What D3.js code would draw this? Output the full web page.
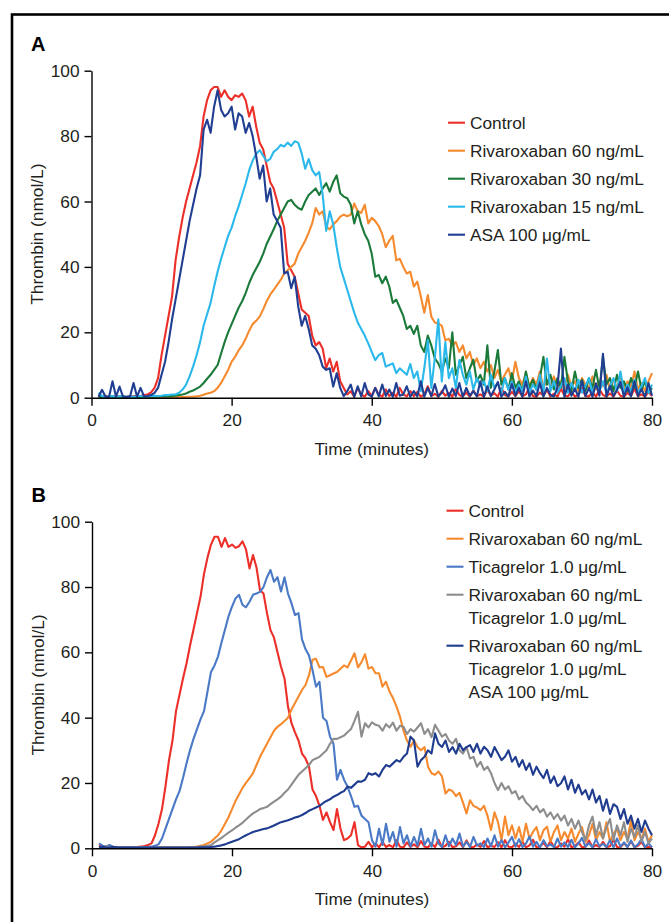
<!DOCTYPE html>
<html>
<head>
<meta charset="utf-8">
<script src="https://cdn.jsdelivr.net/npm/d3@7"></script>
<style>
  body { margin: 0; background: #fff; }
  text { font-family: Arial, "Liberation Sans", sans-serif; }
</style>
</head>
<body>
<svg id="chart" width="669" height="922"></svg>
<script>
// sample times (minutes), one reading every 30 s
var TIME = [
  1,1.5,2,2.5,3,3.5,4,4.5,5,5.5,
  6,6.5,7,7.5,8,8.5,9,9.5,10,10.5,
  11,11.5,12,12.5,13,13.5,14,14.5,15,15.5,
  16,16.5,17,17.5,18,18.5,19,19.5,20,20.5,
  21,21.5,22,22.5,23,23.5,24,24.5,25,25.5,
  26,26.5,27,27.5,28,28.5,29,29.5,30,30.5,
  31,31.5,32,32.5,33,33.5,34,34.5,35,35.5,
  36,36.5,37,37.5,38,38.5,39,39.5,40,40.5,
  41,41.5,42,42.5,43,43.5,44,44.5,45,45.5,
  46,46.5,47,47.5,48,48.5,49,49.5,50,50.5,
  51,51.5,52,52.5,53,53.5,54,54.5,55,55.5,
  56,56.5,57,57.5,58,58.5,59,59.5,60,60.5,
  61,61.5,62,62.5,63,63.5,64,64.5,65,65.5,
  66,66.5,67,67.5,68,68.5,69,69.5,70,70.5,
  71,71.5,72,72.5,73,73.5,74,74.5,75,75.5,
  76,76.5,77,77.5,78,78.5,79,79.5,80
];

var X_TICKS = [0, 20, 40, 60, 80];
var Y_TICKS = [0, 20, 40, 60, 80, 100];

// ---- panel A series (thrombin nmol/L) ----
var A_CONTROL = [
  0.5,0.3,0.6,0.4,0.3,0.5,0.4,0.6,0.3,0.5,
  0.4,0.6,0.5,0.8,1.0,1.6,3,6,13,19,
  25,31,42,49,55,60,64,68,72,77,
  86,91,94,95,95,92,94,92,91,92.5,
  92,93,91,86,89,83,78,76,71,66,
  64,60,56,52,41,39,37,32,27,26,
  25,19,16,17,15,9,12,8,11,5,
  3,1,2,0.3,3,1,0.3,2,0.5,3,
  1,0.3,2.5,0.5,1.5,0.3,3,1,0.4,2,
  0.5,1.8,0.3,1,3.5,0.5,1.2,0.3,2,0.6,
  1.5,0.3,2.8,0.8,0.4,1.6,0.3,2.2,0.5,1,
  0.3,2.5,0.6,1.4,0.3,3,0.8,0.4,1.8,0.5,
  2,0.4,1,3.2,0.5,0.3,1.6,0.6,2.4,0.4,
  1.2,0.3,2.8,0.7,0.4,1.9,0.3,1,3,0.5,
  0.4,1.7,0.3,2.6,0.8,0.4,1.3,0.3,2.2,0.6,
  0.3,1.5,0.5,2.8,0.4,1,0.3,1.8,0.5
];
var A_RIV60 = [
  0.2,0.2,0.2,0.2,0.2,0.2,0.2,0.2,0.2,0.2,
  0.2,0.2,0.2,0.2,0.2,0.2,0.2,0.2,0.2,0.2,
  0.2,0.2,0.2,0.2,0.2,0.2,0.3,0.3,0.4,0.6,
  0.9,1.3,1.5,2,3,4.5,6.5,8.5,11,12.5,
  14.5,16,18,20.5,22.5,23.5,24.8,27,29.5,31.5,
  33,34.5,36,38,39,40,41,44,46,48,
  50.5,53.3,58,56,57,52.3,51.5,53,54,55.4,
  56,55.5,56,59.4,57,56.5,59,53.3,55,54,
  52.5,50,46,48,49.5,42,42.5,40,38,38.5,
  34,35.5,31,26,31.4,24.8,23,22.7,22,17.6,
  18,16,17,14,16,12,14,10,12,9,
  11,8,10,6,8.5,5,7,9,5,11,
  6,4,7.5,3.5,6,4,8,3,5.5,3.5,
  6.5,3,5,2.5,7,3.5,5,2,6,4,
  3,6.5,2.5,5,3.5,7,2.5,5.5,3,6.5,
  2.5,5,3,8,2.5,4.5,2,5,7.5
];
var A_RIV30 = [
  0.2,0.2,0.2,0.2,0.2,0.2,0.2,0.2,0.2,0.2,
  0.2,0.2,0.2,0.2,0.2,0.3,0.3,0.3,0.4,0.4,
  0.4,0.5,0.6,0.8,1,1.3,1.8,2.2,2.8,3.4,
  4.5,5.8,7,8.5,10,13.5,17,20,22.5,25,
  27.5,29.5,32,35,37.5,39.5,41.5,44,47,49.2,
  51.5,54,56,58,60,60.5,59,58,57.5,60,
  62,63,64,62,64,65.6,63,66,68,62.5,
  61.5,61,59,53.3,57,53,50,48,44,37,
  37.5,35,37,34,29,30,27.5,25,21,22,
  19.5,22,16,14,19,16,12,10.5,8,12,
  9,20,7,10,12.5,6,9,11.6,5,7,
  4,16,3,8,14.6,4,6,2.5,7.5,3,
  5,2,8,3,5.5,2.5,6,12.5,4,7,
  2.5,6,3,12.5,5,2,8,3,5.5,2,
  6,3,8.5,2.5,12.5,4,6,2,7,3,
  5,2,6,3,8,2.5,5,1.5,3
];
var A_RIV15 = [
  1.5,0.5,0.3,0.4,0.5,0.3,0.4,0.5,0.3,0.4,
  0.3,0.4,0.5,0.3,0.4,0.5,0.6,0.5,0.6,0.8,
  0.8,1,1,1.5,2.5,4,6.5,9.5,13,17,
  22,25.5,29,34,38.5,42.5,46,49.5,52,55.5,
  58.5,62,65.5,69.5,72.5,74.5,75.7,74,72.3,73,
  75.2,76,77.3,76.8,78,77,78.4,78,74.7,70,
  73,69.6,68,69,62,51,57,53,46,40,
  36.5,33,29.5,26,23,21,19,16.6,14,11.5,
  13,13.7,9.5,10,10.5,7.5,9,8,7,10.3,
  6,8,2,9,17.6,3,12,24,5,17,
  6,9,3,11.5,7,4,8,2.5,6,3.5,
  5,2,7,3,4.5,1.5,6,2.5,5,1.5,
  4,2,6.5,1.5,4,2.5,7,1.5,12,2,
  5,1.5,3.5,6,1.5,4.5,2,5.5,1.5,3.5,
  6,1.5,4,2,5,1.5,3.5,6,2,8,
  1.5,4,2,5.5,1.5,3.5,6,1.5,4
];
var A_ASA = [
  0.3,2.4,0.3,0.2,5,0.3,3.4,0.3,0.2,0.4,
  4.5,0.3,3,0.4,0.5,0.8,1.5,3,7,11,
  17,24,30,36,42,48,54,59,64,68,
  82,85,81,89,94,88,86,87,89,82,
  87,86,81,84,80,74,67,71,60,64,
  56,54,52,38,38.5,33.5,37,28,22,25,
  21,16,15,13,9.5,8.5,9,3.4,7.5,3,
  0.5,2,4,0.3,3.5,0.4,4.5,1,0.3,3,
  0.4,4,0.5,2.5,0.3,4.5,0.6,1,3.5,0.3,
  2,0.4,5,0.3,3,0.5,4.2,0.4,1.5,3.8,
  0.3,2.8,0.5,4.5,0.3,3,0.6,2,0.4,5,
  0.3,3.5,0.5,2.5,4.8,0.3,1.8,0.4,4.2,0.6,
  3,0.3,5,0.4,2.2,0.5,4.6,0.3,3,0.8,
  0.4,3,15,0.3,4,0.6,2.8,0.3,5.2,0.5,
  3,0.3,4.4,0.6,13.4,0.3,3.6,0.5,2.4,4.8,
  0.3,3.2,0.4,5,0.5,2.6,0.3,4.5,0.6
];

// ---- panel B series ----
var B_CONTROL = [
  1,0.5,0.3,0.8,0.3,0.4,0.2,0.3,0.2,0.3,
  0.3,0.4,0.5,0.7,1,1.5,4,7.5,12,19,
  27,33,42,47,52,56.6,62,67,72,77,
  84,89,93,95.4,95.4,92.3,95,92.3,93,92,
  92.5,94,91.5,85.7,89.8,86,79,78,72,66.8,
  64.5,60,55.6,52,43.4,38.3,35.5,33,29,27.5,
  25,18,16,13,8.7,11,8,5.6,12,6,
  2.5,3,4,8,1,0.3,0.5,2,0.3,1.5,
  0.3,2,0.4,1,0.3,2.5,0.5,0.3,1.8,0.4,
  1.2,0.3,2.2,0.5,0.3,1.5,0.4,2.6,0.3,0.8,
  2,0.3,0.6,1.8,0.3,2.4,0.5,0.3,1.2,0.4,
  2.2,0.3,0.8,0.4,1.9,0.3,2.5,0.5,0.3,1.4,
  0.4,2,0.3,0.9,2.6,0.3,0.5,1.7,0.3,2.2,
  0.4,0.3,1.5,0.5,2.8,0.3,0.7,1.8,0.3,0.5,
  2.4,0.3,1,0.4,2,0.3,0.6,2.6,0.4,0.3,
  1.6,0.4,2.2,0.3,0.8,1.9,0.3,0.5,0.3
];
var B_RIV60 = [
  0.3,0.5,0.3,0.2,0.3,0.2,0.3,0.2,0.3,0.2,
  0.2,0.2,0.2,0.2,0.2,0.2,0.3,0.3,0.3,0.3,
  0.3,0.3,0.3,0.3,0.3,0.3,0.4,0.4,0.5,0.8,
  1,1.5,2,3,4,5.5,7.5,9.5,12,14.5,
  16.5,18.5,20,21.5,23,25.5,28,30,32,34,
  36,37.2,38,39,40,42.5,44.5,46.5,48.5,50,
  53,57.7,58,55.4,55.5,52.5,53,53.5,54,55,
  56,55.4,57.5,59.7,55.4,57,59.4,55,55.5,53.6,
  53.6,49.5,51,48,46,43.4,40.3,36,33,31.1,
  33,31,30,31,25,23,22.5,23.5,22,16.8,
  18,17.5,16,17,14,10.7,14.7,13,12.5,11.7,
  13,10,5.6,11,8,2.5,9.7,4,7,3,
  6.5,2,7.5,3,5,6.5,2.5,5.5,6.6,2,
  5,7,2.5,5,3,6,2,4.5,6.5,2,
  4,7.5,2.5,5,3,8,2,4.5,6,2.5,
  5,3,8.5,2.5,5,3,6,2,4
];
var B_TICA = [
  1.5,0.8,0.5,1,0.4,0.3,0.4,0.3,0.2,0.3,
  0.3,0.2,0.3,0.4,0.4,0.5,0.8,1.2,3,6,
  9,12,15,17.5,21.5,26,30,33.5,36.5,39.5,
  42,48,54,56,58.7,63,67,71,74,76.5,
  77.6,74.5,73.8,75.5,77.6,78,78.5,80,83,85.2,
  81.6,83,78.6,83,78,75,71.4,72,64,61,
  59,54.6,49.5,51,40,39,34.2,32,21,24,
  21,18.9,16,12.7,13,10,9,8,2.5,0.5,
  6,1,7.5,2,5,0.5,6.5,1.5,4,0.5,
  3.5,0.8,6,1,3,0.5,5.5,1.5,0.4,4,
  0.6,3,1,4.5,0.5,2,0.4,3.5,0.8,1.5,
  0.4,3,0.6,4,0.5,2.5,0.3,1.8,3.5,0.5,
  2.8,0.4,1.5,3.6,0.5,2,0.3,2.5,0.6,1.2,
  0.3,3,0.5,1.8,0.4,2.6,0.3,1.5,3.2,0.5,
  1.6,0.3,2.8,0.6,1.4,0.4,2.5,0.3,3,0.5,
  1.8,0.4,2.4,0.3,1.2,2.8,0.4,1.5,0.3
];
var B_RIV_TICA = [
  0.5,0.3,0.6,0.3,0.2,0.3,0.2,0.2,0.2,0.2,
  0.2,0.2,0.2,0.2,0.2,0.2,0.2,0.2,0.2,0.2,
  0.2,0.2,0.2,0.2,0.2,0.2,0.3,0.3,0.4,0.5,
  0.6,0.8,1,1.8,2.5,3.2,4,4.8,5.5,6.3,
  7,7.8,8.8,9.8,10.7,11.3,12,12.3,12.7,13.5,
  14.3,15,15.8,17,18,19.5,21,22.5,23.5,24.5,
  25.5,27,27.5,28,29,30,32,33.5,33.5,34,
  34.5,35.5,36.5,39,41.8,34.2,38.3,37,38.6,37.8,
  37.5,36,38,37,38.5,36,37.5,37.2,35,36.5,
  35.7,37,38.3,35,36.5,34,37.8,36,34.2,35,
  33,32,33.5,30,29,31,27.5,28,25,26.5,
  24,25,23,20,17.8,20,18,19,16.8,17.5,
  15,16,14,13,11.7,13,11,12,9.7,11,
  9,10.5,8.5,10,7,9,6,8.5,5,2.5,
  7,9.7,4,8,3,6.5,9,2.5,7,4,
  8,2,6,3.5,7,2,5,1.5,3
];
var B_RIV_TICA_ASA = [
  0.3,0.5,0.3,0.2,0.5,0.3,0.2,0.2,0.2,0.2,
  0.2,0.2,0.2,0.2,0.2,0.2,0.2,0.2,0.2,0.2,
  0.2,0.2,0.2,0.2,0.2,0.2,0.2,0.2,0.2,0.3,
  0.3,0.3,0.4,0.5,0.7,0.9,1.2,1.6,2,2.4,
  2.8,3.4,4,4.5,5,5.3,5.6,5.9,6.1,6.5,
  7,7.5,8,8.3,8.6,9,9.4,9.7,10.2,10.8,
  11.5,12,12.5,13,13.8,14.5,15,15.8,16.3,17,
  17.5,18.9,18.5,19.5,20.5,20.4,21,23,22.5,23,
  22,24,25.5,25,26,27,26.5,28,29,34.2,
  33,25,27,28,30,29,35.2,32,31,33,
  29.5,31,29,32,30,31,31.6,29.5,32,29,
  31.1,30,28,31,29,27,28,30,26.5,28,
  25,27,24,26,22.5,25,23,21.5,24,20,
  22,19,19.9,22,18,21,17,19.5,16.5,17.8,
  15,18,14,16,11.5,15,10.5,13.5,12.7,9,
  12,7.5,10,6,9,5,8.5,6,4
];

var A_LABELS = [["Control"], ["Rivaroxaban 60 ng/mL"], ["Rivaroxaban 30 ng/mL"],
                ["Rivaroxaban 15 ng/mL"], ["ASA 100 \u03bcg/mL"]];
var B_LABELS = [["Control"], ["Rivaroxaban 60 ng/mL"], ["Ticagrelor 1.0 \u03bcg/mL"],
                ["Rivaroxaban 60 ng/mL", "Ticagrelor 1.0 \u03bcg/mL"],
                ["Rivaroxaban 60 ng/mL", "Ticagrelor 1.0 \u03bcg/mL", "ASA 100 \u03bcg/mL"]];

var FONT_SIZE = "17.3px";

var svg = d3.select("#chart");

// outer frame (runs off the right and bottom edges)
svg.append("rect")
  .attr("x", 12).attr("y", 14.5)
  .attr("width", 720).attr("height", 960)
  .attr("fill", "none").attr("stroke", "#000").attr("stroke-width", 2.6);

function drawPanel(opt) {
  var g = svg.append("g")
    .attr("transform", "translate(" + opt.left + "," + opt.top + ")");

  var x = d3.scaleLinear().domain([0, 80]).range([0, opt.width]);
  var y = d3.scaleLinear().domain([0, 100]).range([opt.height, 0]);

  var line = d3.line()
    .x(function(d, i) { return x(TIME[i]); })
    .y(function(d) { return y(d); });

  // curves
  opt.series.forEach(function(s, k) {
    g.append("path")
      .datum(s)
      .attr("d", line)
      .attr("fill", "none")
      .attr("stroke", opt.colors[k])
      .attr("stroke-width", 2.1)
      .attr("stroke-linejoin", "round");
  });

  // axes
  var xAxis = d3.axisBottom(x).tickValues(X_TICKS).tickSize(8).tickSizeOuter(0).tickPadding(8);
  var yAxis = d3.axisLeft(y).tickValues(Y_TICKS).tickSize(7).tickSizeOuter(0).tickPadding(5);

  var gx = g.append("g").attr("transform", "translate(0," + opt.height + ")").call(xAxis);
  var gy = g.append("g").call(yAxis);

  [gx, gy].forEach(function(a) {
    a.select(".domain").attr("stroke", "#000").attr("stroke-width", 1.4);
    a.selectAll(".tick line").attr("stroke", "#000").attr("stroke-width", 1.4);
    a.selectAll(".tick text")
      .attr("fill", "#231f20")
      .style("font-size", FONT_SIZE)
      .style("font-family", "Arial, 'Liberation Sans', sans-serif");
  });

  // axis titles
  g.append("text")
    .attr("transform", "translate(" + (-48.5) + "," + (opt.height / 2) + ") rotate(-90)")
    .attr("text-anchor", "middle")
    .attr("fill", "#231f20")
    .style("font-size", FONT_SIZE)
    .text("Thrombin (nmol/L)");

  g.append("text")
    .attr("x", x(40))
    .attr("y", opt.height + 57)
    .attr("text-anchor", "middle")
    .attr("fill", "#231f20")
    .style("font-size", FONT_SIZE)
    .text("Time (minutes)");

  // panel letter
  svg.append("text")
    .attr("x", opt.letterX).attr("y", opt.letterY)
    .attr("fill", "#000")
    .style("font-size", "20px")
    .style("font-weight", "bold")
    .text(opt.letter);

  // legend
  var lg = svg.append("g");
  var yy = opt.legendY;
  opt.labels.forEach(function(lines, k) {
    lg.append("line")
      .attr("x1", opt.legendX).attr("x2", opt.legendX + 17)
      .attr("y1", yy).attr("y2", yy)
      .attr("stroke", opt.colors[k]).attr("stroke-width", 2.1);
    lines.forEach(function(t, j) {
      lg.append("text")
        .attr("x", opt.legendX + 22)
        .attr("y", yy + j * opt.lineStep)
        .attr("dy", "0.36em")
        .attr("fill", "#231f20")
        .style("font-size", FONT_SIZE)
        .text(t);
    });
    yy += (lines.length - 1) * opt.lineStep + opt.entryStep;
  });
}

drawPanel({
  left: 91.5, top: 70.7, width: 560.5, height: 327,
  series: [A_CONTROL, A_RIV60, A_RIV30, A_RIV15, A_ASA],
  colors: ["#ec2f28", "#f58a2e", "#1b7a3a", "#2bb8ea", "#213f92"],
  labels: A_LABELS,
  legendX: 448, legendY: 122.7, lineStep: 23, entryStep: 28,
  letter: "A", letterX: 31, letterY: 51
});

drawPanel({
  left: 92, top: 521.7, width: 560, height: 326.6,
  series: [B_CONTROL, B_RIV60, B_TICA, B_RIV_TICA, B_RIV_TICA_ASA],
  colors: ["#ec2f28", "#f58a2e", "#4a79c6", "#8d8d8d", "#1f3c8f"],
  labels: B_LABELS,
  legendX: 446.5, legendY: 510.7, lineStep: 23, entryStep: 28,
  letter: "B", letterX: 31.5, letterY: 501.5
});
</script>
</body>
</html>
